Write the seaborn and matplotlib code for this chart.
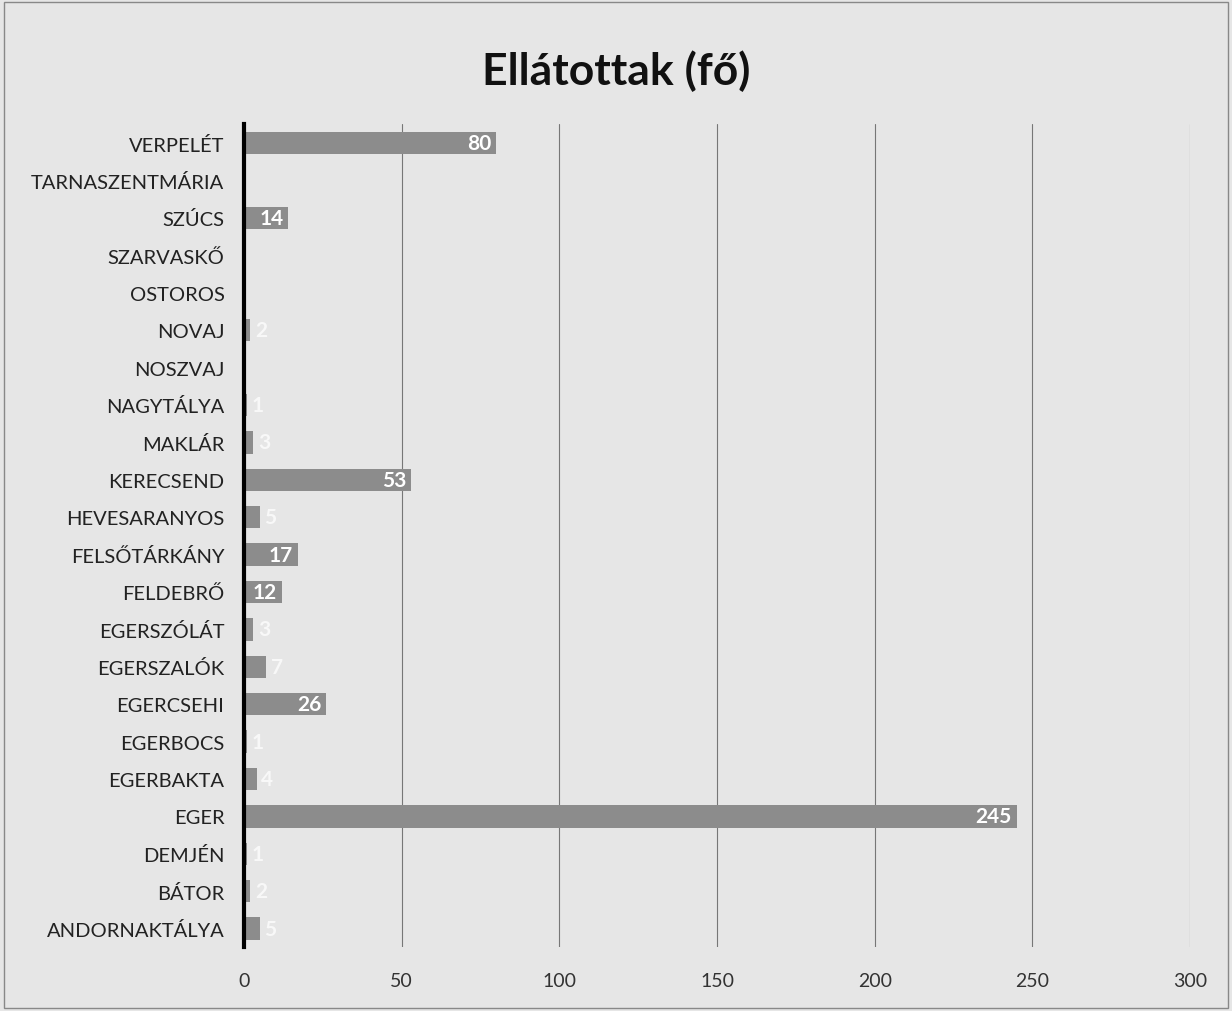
import pandas as pd
import numpy as np
import matplotlib
matplotlib.use('Agg')
import matplotlib.pyplot as plt
import seaborn as sns

# data, top to bottom
telepules = ['VERPELÉT', 'TARNASZENTMÁRIA', 'SZÚCS', 'SZARVASKŐ', 'OSTOROS',
             'NOVAJ', 'NOSZVAJ', 'NAGYTÁLYA', 'MAKLÁR', 'KERECSEND',
             'HEVESARANYOS', 'FELSŐTÁRKÁNY', 'FELDEBRŐ', 'EGERSZÓLÁT',
             'EGERSZALÓK', 'EGERCSEHI', 'EGERBOCS', 'EGERBAKTA', 'EGER',
             'DEMJÉN', 'BÁTOR', 'ANDORNAKTÁLYA']
ellatottak = [80, 0, 14, 0, 0, 2, 0, 1, 3, 53, 5, 17, 12, 3, 7, 26, 1, 4, 245, 1, 2, 5]
x_ticks = [0, 50, 100, 150, 200, 250, 300]

data = pd.DataFrame({'telepules': telepules, 'fo': ellatottak})

sns.set_style('white')
plt.rcParams['font.family'] = ['Lato', 'DejaVu Sans']

bg = '#e6e6e6'
fig = plt.figure(figsize=(12.32, 10.12), dpi=100, facecolor=bg)
ax = fig.add_axes([0.198, 0.063, 0.768, 0.813])
ax.set_facecolor(bg)

sns.barplot(data=data, x='fo', y='telepules', color='#8c8c8c', saturation=1,
            width=0.6, ax=ax, orient='h', linewidth=0)

# value labels, white bold like the original
for i, v in enumerate(ellatottak):
    if v == 0:
        continue
    if v >= 10:
        ax.text(v - 1.5, i, str(v), ha='right', va='center', color='white',
                fontsize=15, fontweight='bold')
    else:
        ax.text(v + 1.5, i, str(v), ha='left', va='center', color='#f8f8f8',
                fontsize=15, fontweight='bold')

ax.set_xlim(0, 300)
ax.set_xticks(x_ticks)
ax.set_xticklabels([str(t) for t in x_ticks], fontsize=14, color='#333333')
ax.tick_params(axis='y', labelsize=14.5, colors='#222222', length=0, pad=14)
ax.tick_params(axis='x', length=0, pad=18)
ax.set_xlabel('')
ax.set_ylabel('')

ax.grid(axis='x', color='#777777', linewidth=0.8)
ax.set_axisbelow(True)
for s in ['top', 'right', 'bottom']:
    ax.spines[s].set_visible(False)
ax.spines['left'].set_color('black')
ax.spines['left'].set_linewidth(3)

fig.text(0.5, 0.93, 'Ellátottak (fő)', ha='center', va='center',
         fontsize=32, fontweight='bold', color='#111111')

# thin frame around the whole picture
fig.patches.append(plt.Rectangle((0.003, 0.003), 0.994, 0.994, transform=fig.transFigure,
                                 fill=False, edgecolor='#888888', linewidth=1))

fig.savefig('out.png', dpi=100, facecolor=bg)
